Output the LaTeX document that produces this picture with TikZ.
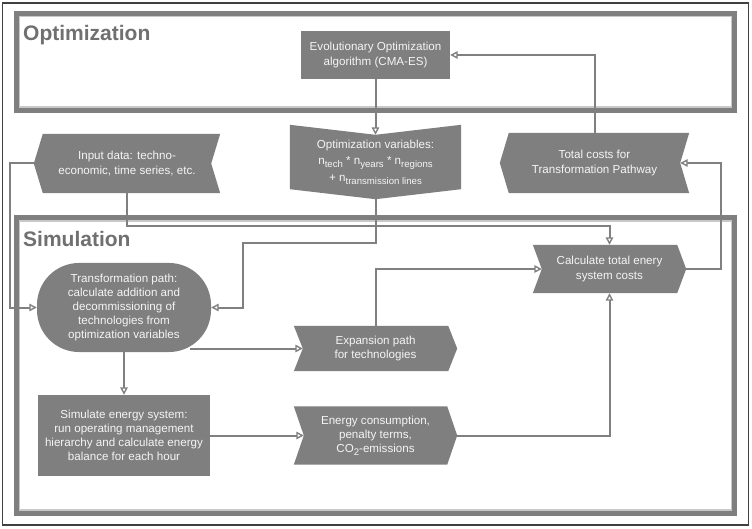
\documentclass[tikz,border=0pt]{standalone}
\usepackage{fontspec}
\setmainfont{Liberation Sans}
\usetikzlibrary{arrows.meta,calc,backgrounds}
\definecolor{gfill}{RGB}{127,127,127}
\definecolor{gline}{RGB}{128,128,128}
\definecolor{gtitle}{RGB}{112,112,112}
\definecolor{gtext}{RGB}{245,245,245}
\definecolor{glight}{RGB}{200,200,200}
\newcommand{\chR}[2]{\fill[gfill] (#1.north west) -- ([xshift=-#2]#1.north east) -- (#1.east) -- ([xshift=-#2]#1.south east) -- (#1.south west) -- ([xshift=#2]#1.west) -- cycle;}
\newcommand{\chL}[2]{\fill[gfill] (#1.west) -- ([xshift=#2]#1.north west) -- (#1.north east) -- ([xshift=-#2]#1.east) -- (#1.south east) -- ([xshift=#2]#1.south west) -- cycle;}
\newcommand{\chD}[2]{\fill[gfill] (#1.north west) -- ([yshift=-#2]#1.north) -- (#1.north east) -- ([yshift=#2]#1.south east) -- (#1.south) -- ([yshift=#2]#1.south west) -- cycle;}
\newcommand{\lowsub}[1]{\raisebox{-2.6pt}{\fontsize{9.6}{10}\selectfont #1}}
\tikzset{
  lbl/.style={text=gtext, font=\fontsize{11.6}{14.2}\selectfont, align=center, inner sep=0pt},
  sz/.style 2 args={minimum width=#1, minimum height=#2},
  rectbox/.style={lbl, fill=gfill},
  title/.style={text=gtitle, font=\fontsize{21}{24}\selectfont\bfseries, anchor=base west, inner sep=0pt},
  frame/.style={line width=5pt, draw=gfill},
  frameinner/.style={line width=1.5pt, draw=glight},
  conn/.style={line width=2pt, draw=gline, -{Triangle[open, length=7.5pt, width=7.5pt, line width=1.4pt]}}
}
\begin{document}
\begin{tikzpicture}[x=1pt, y=-1pt]
\useasboundingbox (0,0) rectangle (752,529);
\begin{pgfonlayer}{background}
\fill[white] (0,0) rectangle (752,529);
\end{pgfonlayer}
\draw[line width=1.2pt, black!75] (2.5,3) rectangle (748.5,525);
% group frames
\draw[frame] (16,13.5) rectangle (734.5,110.5);
\draw[frameinner] (19.25,16.75) rectangle (731.25,107.25);
\draw[frame] (16,218) rectangle (734.5,513);
\draw[frameinner] (19.25,221.25) rectangle (731.25,509.75);
\node[title] (topt) at (23,41) {Optimization};
\node[title] (tsim) at (23,247) {Simulation};
% nodes
\node[rectbox, sz={149pt}{48pt}] (eo) at (375.5,55) {Evolutionary Optimization\\algorithm (CMA-ES)};
\node[lbl, sz={171pt}{74pt}, font=\fontsize{11.6}{16.8}\selectfont] (ov) at (375.5,162) {Optimization variables:\\n\lowsub{tech} * n\lowsub{years} * n\lowsub{regions}\\+ n\lowsub{transmission lines}};
\node[lbl, sz={186pt}{59pt}] (inp) at (127,163.5) {Input data: techno-\\economic, time series, etc.};
\node[lbl, sz={189pt}{60pt}] (tc) at (594.5,163) {Total costs for\\Transformation Pathway};
\node[rectbox, rounded corners=42pt, sz={174pt}{89pt}] (tp) at (124,307.5) {Transformation path:\\calculate addition and\\decommissioning of\\technologies from\\optimization variables};
\node[lbl, sz={163pt}{45pt}] (exp) at (375.5,348.5) {Expansion path\\for technologies};
\node[lbl, sz={153pt}{48pt}] (ct) at (609.5,269) {Calculate total enery\\system costs};
\node[rectbox, sz={172pt}{81pt}] (sim) at (124,435.5) {Simulate energy system:\\run operating management\\hierarchy and calculate energy\\balance for each hour};
\node[lbl, sz={163pt}{58pt}] (en) at (375.5,435.5) {Energy consumption,\\penalty terms,\\CO\lowsub{2}-emissions};
\begin{pgfonlayer}{background}
\chD{ov}{10pt}
\chL{inp}{9pt}
\chL{tc}{9pt}
\chR{exp}{9pt}
\chR{ct}{9pt}
\chR{en}{10pt}
\end{pgfonlayer}
% connectors
\draw[conn] (eo.south) -- ([yshift=-10pt]ov.north);
\draw[conn] (tc.north) |- (eo.east);
\draw[conn] (inp.south) -- ++(0,33) -| (ct.north);
\draw[conn] (inp.west) -- ++(-24,0) |- (tp.west);
\draw[conn] (ov.south) |- (243,243) |- (tp.east);
\draw[conn] ([xshift=-21pt]tp.south east |- exp.west) -- ([xshift=9pt]exp.west);
\draw[conn] (exp.north) |- ([xshift=9pt]ct.west);
\draw[conn] (tp.south) -- (sim.north);
\draw[conn] (sim.east) -- ([xshift=10pt]en.west);
\draw[conn] (en.east) -| (ct.south);
\draw[conn] (ct.east) -- ++(35,0) |- ([xshift=-9pt]tc.east);
\end{tikzpicture}
\end{document}
